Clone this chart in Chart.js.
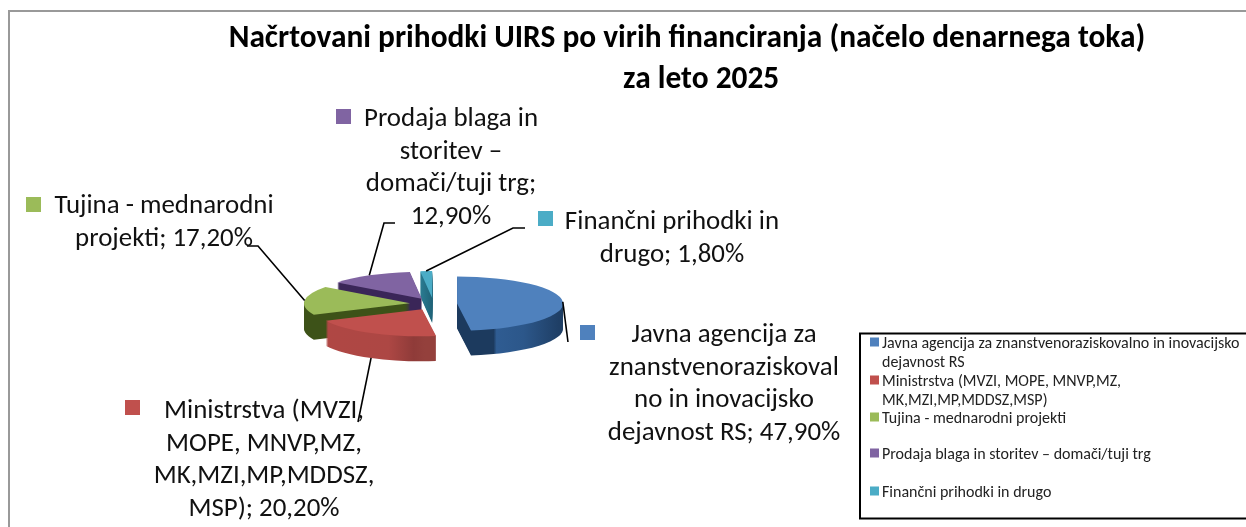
<!DOCTYPE html>
<html>
<head>
<meta charset="utf-8">
<style>
  html, body { margin: 0; padding: 0; background: #fff; overflow: hidden; }
  #wrap { width: 1246px; height: 527px; }
  #myChart { filter: blur(0.3px); }
</style>
<script src="https://cdn.jsdelivr.net/npm/chart.js@4"></script>
</head>
<body>
<div id="wrap"><canvas id="myChart" width="1246" height="527"></canvas></div>
<script>
const titleLines = [
  "Načrtovani prihodki UIRS po virih financiranja (načelo denarnega toka)",
  "    za leto 2025",
];
const categories = [
  "Javna agencija za znanstvenoraziskovalno in inovacijsko dejavnost RS",
  "Ministrstva (MVZI, MOPE, MNVP,MZ, MK,MZI,MP,MDDSZ,MSP)",
  "Tujina - mednarodni projekti",
  "Prodaja blaga in storitev – domači/tuji trg",
  "Finančni prihodki in drugo",
];
const values = [47.9, 20.2, 17.2, 12.9, 1.8];
const colors = ["#4f81bd", "#c0504d", "#9bbb59", "#8064a2", "#4bacc6"];

// lines of each callout, the percentage is added behind the last one
const labelLines = [
  ["Javna agencija za", "znanstvenoraziskoval", "no in inovacijsko", "dejavnost RS;"],
  ["Ministrstva (MVZI,", "MOPE, MNVP,MZ,", "MK,MZI,MP,MDDSZ,", "MSP);"],
  ["Tujina - mednarodni", "projekti;"],
  ["Prodaja blaga in", "storitev –", "domači/tuji trg;", ""],
  ["Finančni prihodki in", "drugo;"],
];
const legendLines = [
  ["Javna agencija za znanstvenoraziskovalno in inovacijsko", "dejavnost RS"],
  ["Ministrstva (MVZI, MOPE, MNVP,MZ,", "MK,MZI,MP,MDDSZ,MSP)"],
  ["Tujina - mednarodni projekti"],
  ["Prodaja blaga in storitev – domači/tuji trg"],
  ["Finančni prihodki in drugo"],
];

// layout of the callouts: text centre, first line y, swatch corner, leader elbow points
const labelBoxes = [
  { x: 724, y: 335, sx: 580, sy: 325, leader: [[568, 342]] },
  { x: 264, y: 411, sx: 125, sy: 400, leader: [[358, 422]], wallEnd: true },
  { x: 164, y: 206, sx: 26, sy: 197, leader: [[258, 246], [247, 246]] },
  { x: 451, y: 119, sx: 336, sy: 109, leader: [[384, 223], [395, 223]] },
  { x: 672, y: 222, sx: 538, sy: 211, leader: [[513, 228], [525, 228]] },
];
const legendRows = [342, 380, 417, 453, 491];

// screen x -> colour of the extruded side of each slice
const wallStops = [
  [[457, "#1c3a5e"], [470, "#1c3a5e"], [473, "#2f5c92"], [500, "#2c578a"], [535, "#1f3f66"], [565, "#1b3757"]],
  [[325, "#b04744"], [400, "#ad4744"], [425, "#8f3b39"], [436, "#94403c"]],
  [[303, "#86a04a"], [312, "#7c9443"], [314, "#3d5218"], [420, "#3d5218"]],
  [[336, "#3a2658"], [425, "#3a2658"]],
  [[420, "#2c7f95"], [436, "#1d5e73"]],
];

const pie = { cx: 433.5, cy: 304, squash: 0.255, explode: 23.6, depth: 25 };
const drawOrder = [4, 3, 2, 0, 1];

function midAngle(arc) {
  return (arc.startAngle + arc.endAngle) / 2;
}

const pie3d = {
  id: "pie3d",
  beforeDatasetDraw(chart, args) {
    const ctx = chart.ctx;
    const arcs = args.meta.data;
    drawOrder.forEach((i) => {
      const arc = arcs[i];
      const a = midAngle(arc);
      const grad = ctx.createLinearGradient(arc.x - pie.cx + 300, 0, arc.x - pie.cx + 570, 0);
      wallStops[i].forEach((s) => grad.addColorStop((s[0] - 300) / 270, s[1]));
      const topOptions = arc.options;
      for (let d = pie.depth; d >= 0; d--) {
        arc.options = d > 0 ? Object.assign({}, topOptions, { backgroundColor: grad, borderWidth: 0 }) : topOptions;
        ctx.save();
        ctx.translate(pie.cx, pie.cy + d);
        ctx.scale(1, pie.squash);
        ctx.translate(-arc.x, -arc.y);
        ctx.translate(Math.cos(a) * pie.explode, Math.sin(a) * pie.explode);
        arc.draw(ctx);
        ctx.restore();
      }
      arc.options = topOptions;
    });
    return false;
  },
  afterDraw(chart) {
    const ctx = chart.ctx;
    const arcs = chart.getDatasetMeta(0).data;

    // leader lines start on the rim of their slice
    ctx.strokeStyle = "#000";
    ctx.lineWidth = 1.6;
    arcs.forEach((arc, i) => {
      const a = midAngle(arc);
      const box = labelBoxes[i];
      const r = arc.outerRadius;
      const px = pie.cx + Math.cos(a) * (r + pie.explode);
      const py = pie.cy + Math.sin(a) * (r + pie.explode) * pie.squash + (box.wallEnd ? pie.depth : 0);
      ctx.beginPath();
      ctx.moveTo(px, py);
      box.leader.forEach((p) => ctx.lineTo(p[0], p[1]));
      ctx.stroke();
    });

    // callouts
    ctx.textBaseline = "middle";
    ctx.font = "26.9px Carlito, Lato, sans-serif";
    labelLines.forEach((lines, i) => {
      const box = labelBoxes[i];
      const pct = values[i].toFixed(2).replace(".", ",") + "%";
      ctx.fillStyle = colors[i];
      ctx.fillRect(box.sx, box.sy, 15, 15);
      ctx.fillStyle = "#111";
      ctx.textAlign = "center";
      lines.forEach((line, j) => {
        const text = j === lines.length - 1 ? (line + " " + pct).trim() : line;
        ctx.fillText(text, box.x, box.y + j * 32.8);
      });
    });

    // legend, its right side runs off the picture
    ctx.strokeStyle = "#000";
    ctx.lineWidth = 2;
    ctx.strokeRect(860, 333.5, 392, 185);
    ctx.font = "16px Carlito, Lato, sans-serif";
    ctx.textAlign = "left";
    legendLines.forEach((lines, i) => {
      ctx.fillStyle = colors[i];
      ctx.fillRect(870, legendRows[i] - 4.5, 9, 9);
      ctx.fillStyle = "#222";
      lines.forEach((line, j) => ctx.fillText(line, 882, legendRows[i] + 1.5 + j * 19.7));
    });
  },
  beforeDraw(chart) {
    const ctx = chart.ctx;
    ctx.fillStyle = "#fff";
    ctx.fillRect(0, 0, chart.width, chart.height);
    ctx.strokeStyle = "#999";
    ctx.lineWidth = 2;
    ctx.beginPath();
    ctx.moveTo(9, 527);
    ctx.lineTo(9, 11);
    ctx.lineTo(1246, 11);
    ctx.stroke();
  },
};

const ctx = document.getElementById("myChart");
const chart = new Chart(ctx, {
  type: "pie",
  plugins: [pie3d],
  data: {
    labels: categories,
    datasets: [
      {
        data: values,
        backgroundColor: colors,
        borderWidth: 0,
      },
    ],
  },
  options: {
    responsive: false,
    animation: false,
    layout: {
      padding: { left: 128, bottom: 117 },
    },
    plugins: {
      legend: { display: false },
      tooltip: { enabled: false },
      title: {
        display: true,
        text: titleLines,
        color: "#000",
        padding: { top: 19, bottom: 97 },
        font: { family: "Carlito, Lato, sans-serif", size: 31.4, weight: "bold", lineHeight: 41 / 31.4 },
      },
    },
  },
});
</script>
</body>
</html>
